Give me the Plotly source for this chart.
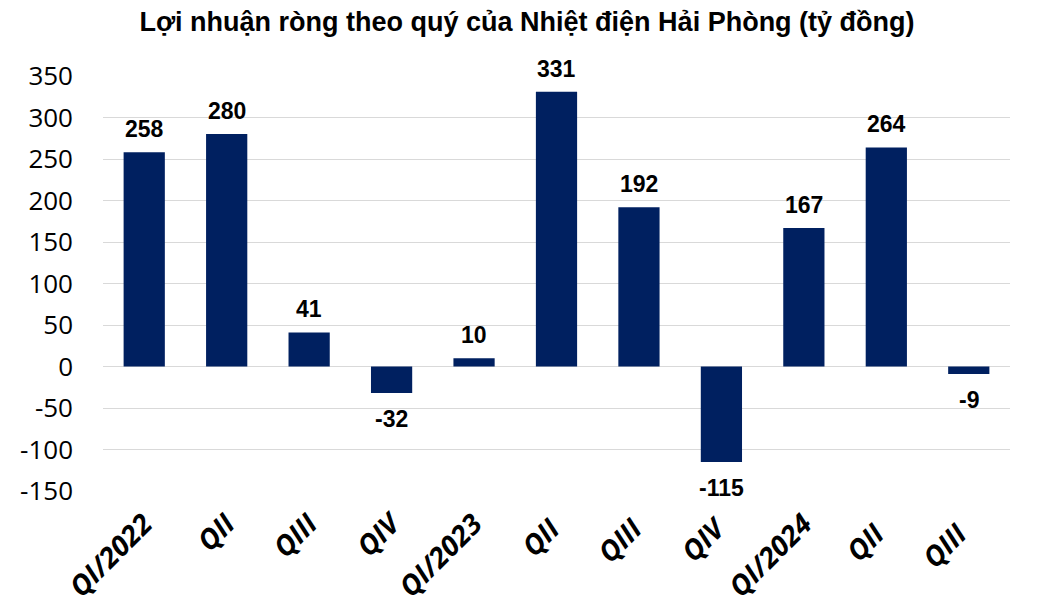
import plotly.graph_objects as go

categories = ["QI/2022", "QII", "QIII", "QIV", "QI/2023", "QII ", "QIII ", "QIV ", "QI/2024", "QII  ", "QIII  "]
values = [258, 280, 41, -32, 10, 331, 192, -115, 167, 264, -9]
labels = ["258", "280", "41", "-32", "10", "331", "192", "-115", "167", "264", "-9"]
y_ticks = [-150, -100, -50, 0, 50, 100, 150, 200, 250, 300, 350]
y_tick_text = ["-150", "-100", "-50", "0", "50", "100", "150", "200", "250", "300", "350"]

fig = go.Figure(go.Bar(x=categories, y=values, marker_color="#002060", marker_line_width=0))

for c, v, t in zip(categories, values, labels):
    fig.add_annotation(
        x=c, y=v, text="<b>%s</b>" % t, showarrow=False,
        yanchor="bottom" if v >= 0 else "top",
        yshift=8 if v >= 0 else -11,
        font=dict(family="Liberation Sans", size=23, color="black"),
    )

W, H = 1038, 595
fig.update_layout(
    width=W, height=H,
    paper_bgcolor="white", plot_bgcolor="white",
    margin=dict(l=95, r=36, t=68, b=112, autoexpand=False),
    bargap=0.5,
    showlegend=False,
    title=dict(text="<b>Lợi nhuận ròng theo quý của Nhiệt điện Hải Phòng (tỷ đồng)</b>",
               x=0.5, xanchor="center", y=1 - 14 / H, yanchor="middle",
               font=dict(family="Liberation Sans", size=27, color="black")),
)
fig.update_yaxes(range=[-150, 350], tickvals=y_ticks, ticktext=y_tick_text,
                 showgrid=True, gridcolor="#d9d9d9",
                 zeroline=False, showline=False, ticks="", automargin=False,
                 tickfont=dict(family="Open Sans", size=26, color="black"), ticklabelstandoff=29)
fig.update_xaxes(tickangle=-45, showline=False, ticks="", automargin=False, ticklabelstandoff=10,
                 tickfont=dict(family="Open Sans", size=28, color="black", weight="bold", style="italic"))
fig.write_html("out.html")
